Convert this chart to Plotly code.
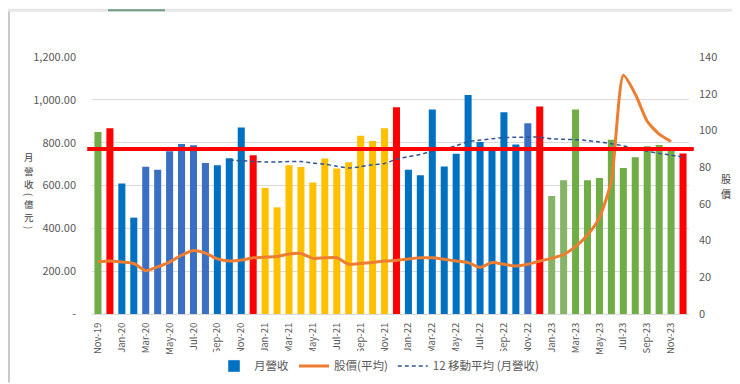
import plotly.graph_objects as go

months = [
    "Nov-19", "Dec-19",
    "Jan-20", "Feb-20", "Mar-20", "Apr-20", "May-20", "Jun-20", "Jul-20", "Aug-20", "Sep-20", "Oct-20", "Nov-20", "Dec-20",
    "Jan-21", "Feb-21", "Mar-21", "Apr-21", "May-21", "Jun-21", "Jul-21", "Aug-21", "Sep-21", "Oct-21", "Nov-21", "Dec-21",
    "Jan-22", "Feb-22", "Mar-22", "Apr-22", "May-22", "Jun-22", "Jul-22", "Aug-22", "Sep-22", "Oct-22", "Nov-22", "Dec-22",
    "Jan-23", "Feb-23", "Mar-23", "Apr-23", "May-23", "Jun-23", "Jul-23", "Aug-23", "Sep-23", "Oct-23", "Nov-23", "Dec-23",
]

revenue = [
    850, 867,
    609, 450, 688, 673, 760, 794, 788, 705, 695, 727, 871, 741,
    589, 498, 695, 686, 614, 726, 679, 708, 832, 808, 867, 965,
    673, 648, 955, 689, 748, 1023, 803, 765, 942, 791, 891, 969,
    551, 624, 955, 624, 635, 814, 682, 732, 783, 789, 768, 750,
]

price = [
    28.5, 28.9,
    28.3, 27.5, 23.6, 25.7, 28.3, 32.0, 34.6, 33.2, 30.0, 28.9, 29.4, 30.6,
    31.0, 31.3, 32.7, 33.0, 30.3, 30.6, 30.6, 27.1, 27.5, 28.0, 28.9, 29.2,
    30.0, 30.6, 30.6, 29.8, 28.9, 28.0, 25.4, 28.0, 27.1, 26.2, 27.1, 28.9,
    30.3, 32.4, 36.7, 43.0, 52.5, 72.6, 130.0, 119.8, 105.0, 98.0, 94.0, None,
]

ma_months = months[11:]
ma12 = [
    718, 716, 712,
    710, 710, 712, 712, 705, 700, 690, 682, 688, 697, 703, 723,
    735, 745, 760, 770, 786, 805, 812, 818, 824, 825, 826, 826,
    818, 816, 814, 810, 803, 795, 785, 772, 760, 750, 742, 732,
]

reference_level = 770

left_ticks = [0, 200, 400, 600, 800, 1000, 1200]
left_tick_text = ["-", "200.00", "400.00", "600.00", "800.00", "1,000.00", "1,200.00"]
right_ticks = [0, 20, 40, 60, 80, 100, 120, 140]

left_title_chars = ["月", "營", "收", "(", "億", "元", ")"]
right_title_chars = ["股", "價"]

# bar colours (style)
GREEN, RED, BLUE, BLUE2, YELLOW, GREEN_L = "#70AD47", "#FF0000", "#0070C0", "#3B6FC1", "#FFC000", "#86B466"
bar_colors = (
    [GREEN, RED]
    + [BLUE, BLUE, BLUE2, BLUE2, BLUE2, BLUE2, BLUE2, BLUE2, BLUE, BLUE, BLUE, RED]
    + [YELLOW] * 11 + [RED]
    + [BLUE] * 10 + [BLUE2, RED]
    + [GREEN_L, GREEN_L] + [GREEN] * 9 + [RED]
)

FONT = "Noto Sans CJK TC, Noto Sans, sans-serif"
GRAY = "#595959"

fig = go.Figure()

fig.add_trace(go.Bar(
    x=months, y=revenue, marker=dict(color=bar_colors, line=dict(width=0)),
    name="月營收", showlegend=False, yaxis="y",
))
# legend swatch for the bar series
fig.add_trace(go.Bar(
    x=[None], y=[None], marker=dict(color=BLUE), name="月營收", showlegend=True,
))
fig.add_trace(go.Scatter(
    x=months, y=price, mode="lines", name="股價(平均)", yaxis="y2",
    line=dict(color="#ED7D31", width=3, shape="spline", smoothing=0.6),
    connectgaps=False,
))
fig.add_trace(go.Scatter(
    x=ma_months, y=ma12, mode="lines", name="12 移動平均 (月營收)", yaxis="y",
    line=dict(color="#2F5597", width=1.5, dash="4px,3px", shape="spline", smoothing=0.6),
))

fig.add_shape(
    type="line", xref="paper", yref="y", x0=-0.008, x1=1.008,
    y0=reference_level, y1=reference_level,
    line=dict(color="#FF0000", width=4), layer="above",
)

# stacked (vertical) axis titles, one glyph per annotation
PX_W, PX_H, TOP, LEFT = 597, 264.5, 49, 84
BOTTOM_PX = TOP + PX_H


def paper_y(py):
    return (BOTTOM_PX - py) / PX_H


y_px = 145.0
for ch in left_title_chars:
    is_paren = ch in "()"
    h = 6.0 if is_paren else 14.0
    fig.add_annotation(
        text=ch, xref="paper", yref="paper",
        x=(21 - LEFT) / PX_W, y=paper_y(y_px + h / 2),
        showarrow=False, textangle=90 if is_paren else 0,
        font=dict(family=FONT, size=9.5, color="#404040"),
        xanchor="center", yanchor="middle", borderpad=0,
    )
    y_px += h
y_px = 167.0
for ch in right_title_chars:
    fig.add_annotation(
        text=ch, xref="paper", yref="paper",
        x=(718 - LEFT) / PX_W, y=paper_y(y_px + 7),
        showarrow=False, font=dict(family=FONT, size=10, color="#404040"),
        xanchor="center", yanchor="middle", borderpad=0,
    )
    y_px += 15

# window frame artefacts
fig.add_shape(type="line", xref="paper", yref="paper", x0=(1 - LEFT) / PX_W, x1=(1 - LEFT) / PX_W,
              y0=paper_y(0), y1=paper_y(384), line=dict(color="#C8C8C8", width=2))
fig.add_shape(type="line", xref="paper", yref="paper", x0=-0.2, x1=1.2,
              y0=paper_y(1), y1=paper_y(1), line=dict(color="#E6E6E6", width=3))
fig.add_shape(type="line", xref="paper", yref="paper", x0=(100 - LEFT) / PX_W, x1=(157 - LEFT) / PX_W,
              y0=paper_y(1), y1=paper_y(1), line=dict(color="#6E9C80", width=2))

fig.update_layout(
    width=740, height=384,
    margin=dict(l=84, r=59, t=49, b=71),
    paper_bgcolor="white", plot_bgcolor="white",
    bargap=0.41,
    font=dict(family=FONT, size=11, color=GRAY),
    xaxis=dict(
        type="category", categoryorder="array", categoryarray=months,
        tickmode="array", tickvals=months[::2], ticktext=months[::2],
        tickangle=-90, tickfont=dict(size=9.5, color=GRAY),
        showgrid=False, showline=True, linecolor="#D9D9D9", linewidth=1,
        ticks="", ticklabelstandoff=4, fixedrange=True,
    ),
    yaxis=dict(
        range=[0, 1200], tickmode="array", tickvals=left_ticks, ticktext=left_tick_text,
        showgrid=True, gridcolor="#D9D9D9", gridwidth=1, zeroline=False,
        tickfont=dict(size=11, color=GRAY), ticks="", ticklabelstandoff=15,
    ),
    yaxis2=dict(
        range=[0, 140], overlaying="y", side="right", tickmode="array", tickvals=right_ticks,
        showgrid=False, zeroline=False, tickfont=dict(size=11, color=GRAY), ticks="",
        ticklabelstandoff=9,
    ),
    legend=dict(
        orientation="h", x=(371 - LEFT) / PX_W, xanchor="center", y=paper_y(367), yanchor="middle",
        font=dict(size=11.5, color=GRAY), traceorder="normal", itemwidth=30,
    ),
)

fig.write_html("out.html")
